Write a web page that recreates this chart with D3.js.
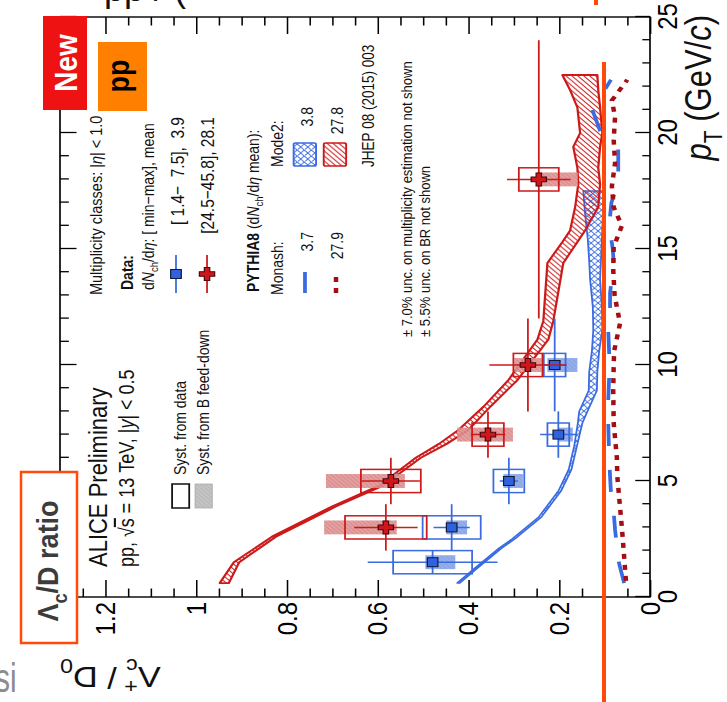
<!DOCTYPE html>
<html><head><meta charset="utf-8">
<script src="https://cdn.jsdelivr.net/npm/d3@7"></script>
<style>
body{margin:0;background:#fff}
svg{display:block;font-family:"Liberation Sans",Arial,sans-serif}
</style>
</head><body>
<svg id="c" width="727" height="702"></svg>
<script>
// ---------- axes ----------
const ptDomain = [0, 25];
const ratioDomain = [0, 1.3];
const ptMajor = [0, 5, 10, 15, 20, 25];
const ratioMajor = [0, 0.2, 0.4, 0.6, 0.8, 1, 1.2];
const ratioLabels = ["0", "0.2", "0.4", "0.6", "0.8", "1", "1.2"];

// ---------- data: low multiplicity [1.4-7.5] ----------
const lowPt    = [1.5, 3, 5, 7, 10];
const lowPtLo  = [1, 2, 4, 6, 8];
const lowPtHi  = [2, 4, 6, 8, 12];
const lowVal   = [0.479, 0.437, 0.311, 0.202, 0.210];
const lowStat  = [0.143, 0.040, 0.020, 0.040, 0.025];
const lowSyst  = [0.087, 0.064, 0.034, 0.024, 0.024];
const lowFdDn  = [0.050, 0.034, 0.031, 0.032, 0.050];
const lowFdUp  = [0.016, 0.012, 0.012, 0.000, 0.016];

// ---------- data: high multiplicity [24.5-45.8] ----------
const highPt   = [3, 5, 7, 10, 18];
const highPtLo = [2, 4, 6, 8, 12];
const highPtHi = [4, 6, 8, 12, 24];
const highVal  = [0.582, 0.571, 0.357, 0.269, 0.245];
const highStat = [0.070, 0.064, 0.038, 0.085, 0.070];
const highSyst = [0.090, 0.066, 0.035, 0.032, 0.044];
const highFdDn = [0.024, 0.031, 0.055, 0.030, 0.086];
const highFdUp = [0.136, 0.143, 0.068, 0.030, 0.004];

// ---------- PYTHIA8 Mode2 bands ----------
const mode2HighPt = [0.6, 1.5, 2.6, 3.9, 4.8, 6.0, 6.6, 7.2, 8.2, 9.35, 11.1, 11.9, 14.4, 15.3, 15.8, 16.8, 17.8, 18.5, 19.4, 20.0, 21.1, 21.85, 22.5];
const mode2HighLo = [0.928, 0.905, 0.824, 0.692, 0.588, 0.505, 0.448, 0.400, 0.352, 0.292, 0.224, 0.213, 0.191, 0.160, 0.143, 0.114, 0.110, 0.114, 0.110, 0.105, 0.110, 0.114, 0.116];
const mode2HighHi = [0.948, 0.917, 0.833, 0.701, 0.597, 0.516, 0.465, 0.422, 0.367, 0.312, 0.248, 0.235, 0.226, 0.193, 0.176, 0.165, 0.158, 0.160, 0.169, 0.154, 0.160, 0.176, 0.193];

const mode2LowPt = [0.6, 1.2, 2.1, 2.5, 3.45, 4.6, 5.5, 6.5, 7.5, 8.0, 8.9, 9.7, 10.6, 11.5, 12.5, 13.7, 14.5, 15.4, 16.5, 17.5];
const mode2LowLo = [0.419, 0.383, 0.327, 0.298, 0.239, 0.195, 0.173, 0.161, 0.149, 0.138, 0.117, 0.116, 0.112, 0.105, 0.106, 0.110, 0.108, 0.106, 0.104, 0.103];
const mode2LowHi = [0.425, 0.389, 0.333, 0.304, 0.245, 0.201, 0.179, 0.167, 0.159, 0.156, 0.135, 0.134, 0.128, 0.125, 0.126, 0.132, 0.134, 0.137, 0.143, 0.147];

// ---------- PYTHIA8 Monash curves ----------
const monashHighPt = [0.7, 2, 3, 4.3, 5.2, 6, 7.5, 8.9, 10, 10.6, 11.8, 13, 14.1, 15.1, 16, 16.8, 17.7, 18.7, 19.7, 20.7, 21.4, 22.3];
const monashHighR  = [0.053, 0.058, 0.062, 0.068, 0.072, 0.073, 0.080, 0.081, 0.080, 0.079, 0.066, 0.078, 0.081, 0.080, 0.062, 0.080, 0.084, 0.077, 0.080, 0.077, 0.084, 0.050];
const monashLowPt = [0.6, 1.6, 2.2, 2.9, 3.9, 4.5, 5.2, 6, 7.5, 8.5, 9.5, 10.5, 11.5, 12.2, 13.1, 14.4, 15, 16, 17, 17.8, 18.4, 19.3, 20.1, 21, 22.3];
const monashLowR  = [0.057, 0.070, 0.073, 0.077, 0.081, 0.086, 0.088, 0.090, 0.092, 0.092, 0.090, 0.090, 0.092, 0.088, 0.088, 0.080, 0.082, 0.090, 0.085, 0.070, 0.070, 0.070, 0.110, 0.127, 0.086];

// ---------- colours ----------
const RED = "#cc1a1a", DARKRED = "#a50d12", BLUE = "#3a6be0", ORANGE = "#ff4a0a";

// ---------- geometry of the rotated panel ----------
const SX = 1.18;                 // panel is drawn a bit wider across
const PW = 580, PH = 590 / SX;   // local width (pT) and height (ratio)

const svg = d3.select("#c");
svg.append("rect").attr("width", 727).attr("height", 702).attr("fill", "#fff");
const defs = svg.append("defs");

function hatch(id, size, bg, paths, stroke, sw) {
  const p = defs.append("pattern").attr("id", id).attr("patternUnits", "userSpaceOnUse")
    .attr("width", size).attr("height", size);
  if (bg) p.append("rect").attr("width", size).attr("height", size).attr("fill", bg);
  p.append("path").attr("d", paths).attr("stroke", stroke).attr("stroke-width", sw).attr("fill", "none");
}
hatch("bandRed", 5, null, "M-1,1 L1,-1 M0,5 L5,0 M4,6 L6,4", RED, 1);
hatch("bandBlue", 6, null, "M0,0 L6,6 M6,0 L0,6 M-1,5 L1,7 M5,-1 L7,1", BLUE, 0.9);
hatch("fdRed", 4, "#e09595", "M-1,1 L1,-1 M0,4 L4,0 M3,5 L5,3", "#c96a6a", 0.6);
hatch("fdBlue", 4, "#88a6e8", "M-1,1 L1,-1 M0,4 L4,0 M3,5 L5,3", "#6a8ad8", 0.6);
hatch("fdGray", 4, "#c4c4c4", "M-1,1 L1,-1 M0,4 L4,0 M3,5 L5,3", "#a8a8a8", 0.6);

const g = svg.append("g").attr("transform", `translate(60,597) scale(${SX},1) rotate(-90)`);

const x = d3.scaleLinear().domain(ptDomain).range([0, PW]);
const y = d3.scaleLinear().domain(ratioDomain).range([PH, 0]);

// ---------- axes ----------
const ptMinor = d3.range(0, 25.01, 1).filter(v => v % 5 !== 0);
const ratioMinor = d3.range(0, 26).map(i => i * 0.05).filter((v, i) => i % 4 !== 0);

function styleAxis(sel, fs) {
  sel.select(".domain").remove();
  sel.attr("font-family", "Liberation Sans, Arial, sans-serif").attr("font-size", fs).attr("color", "#000");
  sel.selectAll("line").attr("stroke-width", 1.3);
}
g.append("g").attr("transform", `translate(0,${PH})`)
  .call(d3.axisBottom(x).tickValues(ptMajor).tickSizeInner(-12.5).tickSizeOuter(0).tickPadding(6).tickFormat(d3.format("d")))
  .call(s => styleAxis(s, 24));
g.append("g").attr("transform", `translate(0,${PH})`)
  .call(d3.axisBottom(x).tickValues(ptMinor).tickSize(-6.5).tickFormat(""))
  .call(s => styleAxis(s, 0));
g.append("g")
  .call(d3.axisTop(x).tickValues(ptMajor).tickSize(-14).tickFormat(""))
  .call(s => styleAxis(s, 0));
g.append("g")
  .call(d3.axisTop(x).tickValues(ptMinor).tickSize(-7.5).tickFormat(""))
  .call(s => styleAxis(s, 0));
g.append("g")
  .call(d3.axisLeft(y).tickValues(ratioMajor).tickSizeInner(-17).tickSizeOuter(0).tickPadding(5)
    .tickFormat((d, i) => ratioLabels[i]))
  .call(s => styleAxis(s, 24));
g.append("g")
  .call(d3.axisLeft(y).tickValues(ratioMinor).tickSize(-8.5).tickFormat(""))
  .call(s => styleAxis(s, 0));
g.append("g").attr("transform", `translate(${PW},0)`)
  .call(d3.axisRight(y).tickValues(ratioMajor).tickSize(-17).tickFormat(""))
  .call(s => styleAxis(s, 0));
g.append("g").attr("transform", `translate(${PW},0)`)
  .call(d3.axisRight(y).tickValues(ratioMinor).tickSize(-8.5).tickFormat(""))
  .call(s => styleAxis(s, 0));
g.append("rect").attr("width", PW).attr("height", PH).attr("fill", "none")
  .attr("stroke", "#000").attr("stroke-width", 1.4);

// ---------- rich text helper (sub/superscripts) ----------
function rich(parent, px, py, size, parts, opts = {}) {
  const t = parent.append("text").attr("x", px).attr("y", py).attr("font-size", size)
    .attr("text-anchor", opts.anchor || "start").attr("fill", opts.fill || "#111");
  if (opts.bold) t.attr("font-weight", "bold");
  if (opts.transform) t.attr("transform", opts.transform);
  let shift = 0;
  parts.forEach(p => {
    const s = typeof p === "string" ? { t: p } : p;
    const target = s.sub ? size * 0.28 : s.sup ? -size * 0.4 : 0;
    const ts = t.append("tspan").attr("dy", target - shift).text(s.t.replace(/ /g, "\u00a0"));
    shift = target;
    if (s.sub || s.sup) ts.attr("font-size", size * 0.68);
    if (s.bold) ts.attr("font-weight", "bold");
    if (s.italic) ts.attr("font-style", "italic");
    if (s.over) ts.attr("text-decoration", "overline");
    if (s.dx) ts.attr("dx", s.dx);
  });
  return t;
}

// axis titles
rich(g, 582, 552, 31, [{ t: "p", italic: true }, { t: "T", sub: true }, " (GeV/", { t: "c", italic: true }, ")"], { anchor: "end" });
rich(g, -70, 0, 29, ["Λ", { t: "+", sup: true }, { t: "c", sub: true, dx: -0.584 * 0.68 * 29 }, " / D", { t: "0", sub: true }],
  { anchor: "end", transform: "rotate(-90,-70,0)" });

// ---------- models ----------
function band(ptA, loA, hiA, pat, col, w) {
  const idx = d3.range(ptA.length);
  const area = d3.area().x(i => x(ptA[i])).y0(i => y(loA[i])).y1(i => y(hiA[i]));
  g.append("path").attr("d", area(idx)).attr("fill", `url(#${pat})`)
    .attr("stroke", col).attr("stroke-width", w).attr("stroke-linejoin", "round");
}
band(mode2LowPt, mode2LowLo, mode2LowHi, "bandBlue", BLUE, 1.5);
band(mode2HighPt, mode2HighLo, mode2HighHi, "bandRed", RED, 1.9);

function curve(ptA, rA, col, w, dash) {
  const line = d3.line().x(i => x(ptA[i])).y(i => y(rA[i]));
  g.append("path").attr("d", line(d3.range(ptA.length))).attr("fill", "none")
    .attr("stroke", col).attr("stroke-width", w).attr("stroke-dasharray", dash);
}
curve(monashLowPt, monashLowR, BLUE, 3.2, "22 24");
curve(monashHighPt, monashHighR, DARKRED, 3.8, "5 6");

// ---------- data ----------
const crossPath = "M-2.3,-6.5H2.3V-2.3H6.5V2.3H2.3V6.5H-2.3V2.3H-6.5V-2.3H-2.3Z";
function series(pt, lo, hi, val, stat, syst, fdDn, fdUp, col, fdPat, marker) {
  const gg = g.append("g");
  const idx = d3.range(pt.length);
  gg.selectAll(".fd").data(idx).join("rect")
    .attr("x", i => x(pt[i] - 0.3)).attr("width", i => x(pt[i] + 0.3) - x(pt[i] - 0.3))
    .attr("y", i => y(val[i] + fdUp[i])).attr("height", i => y(val[i] - fdDn[i]) - y(val[i] + fdUp[i]))
    .attr("fill", `url(#${fdPat})`).attr("opacity", 0.9);
  gg.selectAll(".sy").data(idx).join("rect")
    .attr("x", i => x(pt[i] - 0.5)).attr("width", i => x(pt[i] + 0.5) - x(pt[i] - 0.5))
    .attr("y", i => y(val[i] + syst[i])).attr("height", i => y(val[i] - syst[i]) - y(val[i] + syst[i]))
    .attr("fill", "none").attr("stroke", col).attr("stroke-width", 1.5);
  gg.selectAll(".ex").data(idx).join("line")
    .attr("x1", i => x(lo[i])).attr("x2", i => x(hi[i])).attr("y1", i => y(val[i])).attr("y2", i => y(val[i]))
    .attr("stroke", col).attr("stroke-width", 1.5);
  gg.selectAll(".ey").data(idx).join("line")
    .attr("x1", i => x(pt[i])).attr("x2", i => x(pt[i]))
    .attr("y1", i => y(val[i] - stat[i])).attr("y2", i => y(val[i] + stat[i]))
    .attr("stroke", col).attr("stroke-width", 1.5);
  idx.forEach(i => marker(gg, x(pt[i]), y(val[i])));
}
const squareMarker = (p, cx, cy) => p.append("rect").attr("x", cx - 4.5).attr("y", cy - 4.5)
  .attr("width", 9).attr("height", 9).attr("fill", "#2f62dc").attr("stroke", "#10183a").attr("stroke-width", 1);
const crossMarker = (p, cx, cy) => p.append("path").attr("d", crossPath)
  .attr("transform", `translate(${cx},${cy})`).attr("fill", "#d0161c").attr("stroke", "#4a0508").attr("stroke-width", 1);

series(lowPt, lowPtLo, lowPtHi, lowVal, lowStat, lowSyst, lowFdDn, lowFdUp, BLUE, "fdBlue", squareMarker);
series(highPt, highPtLo, highPtHi, highVal, highStat, highSyst, highFdDn, highFdUp, RED, "fdRed", crossMarker);

// ---------- labels and legend ----------
const lg = g.append("g");
rich(lg, 30, 39.5, 22, ["ALICE Preliminary"]);
rich(lg, 30, 63, 18, ["pp, ", "√", { t: "s", over: true }, " = 13 TeV, |", { t: "y", italic: true }, "| < 0.5"]);
lg.append("rect").attr("x", 89).attr("y", 95).attr("width", 24).attr("height", 14.5)
  .attr("fill", "none").attr("stroke", "#111").attr("stroke-width", 1.5);
lg.append("rect").attr("x", 89).attr("y", 114.5).attr("width", 24).attr("height", 14.5)
  .attr("fill", "url(#fdGray)").attr("stroke", "#aaa").attr("stroke-width", 0.8);
rich(lg, 122, 106.5, 14, ["Syst. from data"]);
rich(lg, 122, 126, 14, ["Syst. from B feed-down"]);

rich(lg, 302, 35.5, 14.5, ["Multiplicity classes: |", { t: "η", italic: true }, "| < 1.0"]);
rich(lg, 307, 61.5, 14, [{ t: "Data:", bold: true }]);
rich(lg, 307, 79.5, 14, ["d", { t: "N", italic: true }, { t: "ch", sub: true }, "/d", { t: "η", italic: true }, ": [ min−max], mean"]);
lg.append("line").attr("x1", 304).attr("x2", 342).attr("y1", 98.3).attr("y2", 98.3).attr("stroke", BLUE).attr("stroke-width", 1.5);
squareMarker(lg, 323, 98.3);
lg.append("line").attr("x1", 304).attr("x2", 342).attr("y1", 124.6).attr("y2", 124.6).attr("stroke", RED).attr("stroke-width", 1.5);
crossMarker(lg, 323, 124.6);
rich(lg, 480, 105, 15.5, ["[ 1.4−  7.5],  3.9"], { anchor: "end" });
rich(lg, 480, 130.5, 15.5, ["[24.5−45.8], 28.1"], { anchor: "end" });

rich(lg, 305, 168.5, 14, [{ t: "PYTHIA8", bold: true }, " (d", { t: "N", italic: true }, { t: "ch", sub: true }, "/d", { t: "η", italic: true }, " mean):"]);
rich(lg, 302, 189, 14, ["Monash:"]);
rich(lg, 430, 189, 14, ["Mode2:"]);
lg.append("line").attr("x1", 304).attr("x2", 325).attr("y1", 207.6).attr("y2", 207.6)
  .attr("stroke", BLUE).attr("stroke-width", 3.2);
lg.append("line").attr("x1", 304).attr("x2", 325).attr("y1", 233.9).attr("y2", 233.9)
  .attr("stroke", DARKRED).attr("stroke-width", 3.8).attr("stroke-dasharray", "5 6");
rich(lg, 365, 214.4, 14, ["3.7"], { anchor: "end" });
rich(lg, 365, 239.8, 14, ["27.9"], { anchor: "end" });
lg.append("rect").attr("x", 431).attr("y", 198).attr("width", 23).attr("height", 19)
  .attr("fill", "url(#bandBlue)").attr("stroke", BLUE).attr("stroke-width", 1.6).attr("rx", 1.5);
lg.append("rect").attr("x", 431).attr("y", 223.5).attr("width", 23).attr("height", 19)
  .attr("fill", "url(#bandRed)").attr("stroke", RED).attr("stroke-width", 1.6).attr("rx", 1.5);
rich(lg, 490, 214.4, 14, ["3.8"], { anchor: "end" });
rich(lg, 490, 239.8, 14, ["27.8"], { anchor: "end" });
rich(lg, 430, 266, 13.5, ["JHEP 08 (2015) 003"]);
rich(lg, 260, 298, 13, ["± 7.0% unc. on multiplicity estimation not shown"]);
rich(lg, 260, 313.5, 13, ["± 5.5% unc. on BR not shown"]);

// ---------- slide annotations ----------
const ov = svg.append("g");
ov.append("text").attr("x", 104).attr("y", 1).attr("font-size", 36).attr("fill", "#111").text("pp / (");
ov.append("rect").attr("x", 594).attr("y", 0).attr("width", 4).attr("height", 5).attr("fill", ORANGE);
ov.append("rect").attr("x", 602).attr("y", 62).attr("width", 4).attr("height", 640).attr("fill", ORANGE);

ov.append("rect").attr("x", 43).attr("y", 16).attr("width", 44).attr("height", 94).attr("fill", "#ee1212");
rich(ov, 0, 10, 28, ["New"], { anchor: "middle", fill: "#fff", bold: true, transform: "translate(65,63) scale(1.15,1) rotate(-90)" });
ov.append("rect").attr("x", 98).attr("y", 42).attr("width", 49).attr("height", 69).attr("fill", "#ff8000");
rich(ov, 0, 6, 27, ["pp"], { anchor: "middle", fill: "#000", bold: true, transform: "translate(122,76) scale(1.15,1) rotate(-90)" });

ov.append("rect").attr("x", 21).attr("y", 472).attr("width", 56).attr("height", 171)
  .attr("fill", "#fff").attr("stroke", ORANGE).attr("stroke-width", 2.5);
rich(ov, 0, 9, 27, ["Λ", { t: "c", sub: true }, "/D ratio"], { anchor: "middle", fill: "#3c3c3c", bold: true, transform: "translate(48,561) scale(1.12,1) rotate(-90)" });

ov.append("text").attr("transform", "translate(-5,692) scale(0.75,1)").attr("font-size", 40).attr("fill", "#8c8c8c").text("si");
</script>
</body></html>
